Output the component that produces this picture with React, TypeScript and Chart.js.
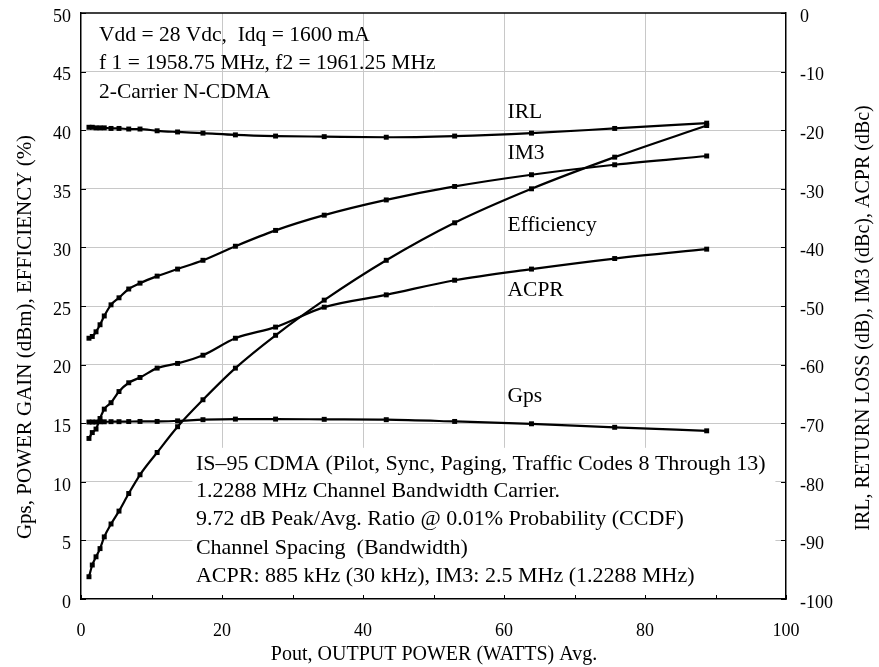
import React, { useEffect, useRef } from "react";
import { Chart, registerables } from "chart.js";
Chart.register(...registerables);

// Output power, W (avg.)
const powerWatts = [1.13, 1.6, 2.13, 2.7, 3.3, 4.26, 5.39, 6.77, 8.37, 10.8, 13.7, 17.3, 21.9, 27.6, 34.5, 43.3, 53.0, 63.9, 75.7, 88.75];
// Left axis series
const gpsDb = [15.1, 15.1, 15.1, 15.12, 15.12, 15.13, 15.13, 15.14, 15.15, 15.15, 15.2, 15.3, 15.35, 15.35, 15.33, 15.3, 15.15, 14.95, 14.65, 14.35];
const efficiencyPct = [1.9, 2.9, 3.6, 4.3, 5.3, 6.4, 7.5, 9.0, 10.6, 12.5, 14.7, 17.0, 19.7, 22.5, 25.5, 28.9, 32.1, 35.0, 37.7, 40.4];
// Right axis series
const irlDb = [-19.5, -19.5, -19.6, -19.6, -19.6, -19.7, -19.7, -19.8, -19.8, -20.1, -20.3, -20.5, -20.8, -21.0, -21.1, -21.2, -21.0, -20.5, -19.7, -18.8];
const im3Dbc = [-55.5, -55.2, -54.4, -53.2, -51.7, -49.8, -48.6, -47.1, -46.1, -44.9, -43.7, -42.2, -39.8, -37.1, -34.5, -31.9, -29.6, -27.6, -25.9, -24.4];
const acprDbc = [-72.6, -71.6, -71.0, -69.2, -67.6, -66.5, -64.6, -63.1, -62.2, -60.6, -59.8, -58.4, -55.5, -53.6, -50.2, -48.1, -45.6, -43.7, -41.9, -40.3];

const xTitle = "Pout, OUTPUT POWER (WATTS) Avg.";
const yTitle = "Gps, POWER GAIN (dBm), EFFICIENCY (%)";
const y2Title = "IRL, RETURN LOSS (dB), IM3 (dBc), ACPR (dBc)";

const topNotes = ["Vdd = 28 Vdc,  Idq = 1600 mA", "f 1 = 1958.75 MHz, f2 = 1961.25 MHz", "2-Carrier N-CDMA"];
const bottomNotes = [
  "IS\u201395 CDMA (Pilot, Sync, Paging, Traffic Codes 8 Through 13)",
  "1.2288 MHz Channel Bandwidth Carrier.",
  "9.72 dB Peak/Avg. Ratio @ 0.01% Probability (CCDF)",
  "Channel Spacing  (Bandwidth)",
  "ACPR: 885 kHz (30 kHz), IM3: 2.5 MHz (1.2288 MHz)",
];
const curveLabels = ["IRL", "IM3", "Efficiency", "ACPR", "Gps"];
const curveLabelY = [41.55, 38.05, 31.9, 26.37, 17.3];

const SERIF = "'Liberation Serif', 'Times New Roman', serif";

const overlay = {
  id: "overlay",
  beforeDatasetsDraw(chart: any) {
    const { ctx, scales } = chart;
    const x = scales.x, y = scales.y;
    ctx.save();
    ctx.fillStyle = "#ffffff";
    const x0 = x.getPixelForValue(15.8), x1 = x.getPixelForValue(98.5);
    const y0 = y.getPixelForValue(12.9), y1 = y.getPixelForValue(0.15);
    ctx.fillRect(x0, y0, x1 - x0, y1 - y0);
    ctx.restore();
  },
  afterDraw(chart: any) {
    const { ctx, chartArea, scales } = chart;
    const x = scales.x, y = scales.y, y2 = scales.y2;
    ctx.save();
    ctx.strokeStyle = "#000";
    ctx.lineWidth = 1.5;
    ctx.beginPath();
    ctx.moveTo(chartArea.left, chartArea.top);
    ctx.lineTo(chartArea.right, chartArea.top);
    ctx.stroke();
    ctx.lineWidth = 1;
    ctx.beginPath();
    y.ticks.forEach((t: any) => {
      const p = Math.round(y.getPixelForValue(t.value)) + 0.5;
      ctx.moveTo(chartArea.left, p);
      ctx.lineTo(chartArea.left + 5, p);
    });
    y2.ticks.forEach((t: any) => {
      const p = Math.round(y2.getPixelForValue(t.value)) + 0.5;
      ctx.moveTo(chartArea.right, p);
      ctx.lineTo(chartArea.right - 5, p);
    });
    for (let v = x.min; v <= x.max; v += 10) {
      const p = Math.round(x.getPixelForValue(v)) + 0.5;
      ctx.moveTo(p, chartArea.bottom);
      ctx.lineTo(p, chartArea.bottom - 4);
    }
    ctx.stroke();

    ctx.fillStyle = "#000";
    ctx.textBaseline = "middle";
    ctx.textAlign = "left";
    ctx.font = `21.5px ${SERIF}`;
    const topY = [48.1, 45.7, 43.26];
    topNotes.forEach((s, i) => ctx.fillText(s, x.getPixelForValue(2.55), y.getPixelForValue(topY[i])));
    ctx.font = `22px ${SERIF}`;
    const botY = [11.5, 9.2, 6.83, 4.35, 1.96];
    bottomNotes.forEach((s, i) => ctx.fillText(s, x.getPixelForValue(16.3), y.getPixelForValue(botY[i])));
    ctx.font = `21.5px ${SERIF}`;
    curveLabels.forEach((s, i) => ctx.fillText(s, x.getPixelForValue(60.5), y.getPixelForValue(curveLabelY[i])));

    ctx.textAlign = "center";
    ctx.font = `20px ${SERIF}`;
    ctx.fillText(xTitle, 434, 655);
    ctx.save();
    ctx.font = `21px ${SERIF}`;
    ctx.translate(25, 337);
    ctx.rotate(-Math.PI / 2);
    ctx.fillText(yTitle, 0, 0);
    ctx.restore();
    ctx.save();
    ctx.translate(864, 318);
    ctx.rotate(-Math.PI / 2);
    ctx.fillText(y2Title, 0, 0);
    ctx.restore();
    ctx.restore();
  },
};

export default function App() {
  const ref = useRef<HTMLCanvasElement | null>(null);
  useEffect(() => {
    if (!ref.current) return;
    const mk = (label: string, data: number[], axis: string) => ({
      label,
      data: powerWatts.map((p, i) => ({ x: p, y: data[i] })),
      yAxisID: axis,
      borderColor: "#000",
      backgroundColor: "#000",
      borderWidth: 2.2,
      pointStyle: "rect",
      pointRadius: 3.5,
      pointBorderWidth: 0,
      pointBackgroundColor: "#000",
      cubicInterpolationMode: "monotone",
      fill: false,
    });
    const tickFont = { family: SERIF, size: 18 };
    const fitV = (w: number) => (s: any) => {
      s.width = w;
      s.paddingTop = 0;
      s.paddingBottom = 0;
    };
    const chart = new Chart(ref.current, {
      type: "line",
      data: {
        datasets: [
          mk("Gps", gpsDb, "y"),
          mk("Efficiency", efficiencyPct, "y"),
          mk("IRL", irlDb, "y2"),
          mk("IM3", im3Dbc, "y2"),
          mk("ACPR", acprDbc, "y2"),
        ] as any,
      },
      options: {
        animation: false,
        responsive: false,
        layout: { padding: { top: 13, left: 0, right: 0, bottom: 0 } },
        plugins: { legend: { display: false }, tooltip: { enabled: false } },
        scales: {
          x: {
            type: "linear",
            min: 0,
            max: 100,
            ticks: { stepSize: 20, font: tickFont, color: "#000", padding: 21, maxRotation: 0 },
            grid: {
              drawTicks: false,
              color: (c: any) => (c.tick && (c.tick.value === 0 || c.tick.value === 100) ? "rgba(0,0,0,0)" : "#c8c8c8"),
            },
            border: { display: true, color: "#000", width: 1.5 },
            afterFit: (s: any) => { s.height = 68; s.paddingLeft = 0; s.paddingRight = 0; },
          },
          y: {
            type: "linear",
            position: "left",
            min: 0,
            max: 50,
            ticks: { stepSize: 5, font: tickFont, color: "#000", padding: 10, labelOffset: 4 },
            grid: {
              drawTicks: false,
              color: (c: any) => (c.tick && (c.tick.value === 0 || c.tick.value === 50) ? "rgba(0,0,0,0)" : "#c8c8c8"),
            },
            border: { display: true, color: "#000", width: 1.5 },
            afterFit: fitV(81),
          },
          y2: {
            type: "linear",
            position: "right",
            min: -100,
            max: 0,
            ticks: { stepSize: 10, font: tickFont, color: "#000", padding: 14, labelOffset: 4 },
            grid: { display: false, drawTicks: false },
            border: { display: true, color: "#000", width: 1.5 },
            afterFit: fitV(93),
          },
        },
      } as any,
      plugins: [overlay],
    });
    return () => chart.destroy();
  }, []);
  return (
    <div style={{ position: "fixed", left: 0, top: 0, width: 879, height: 667, background: "#fff" }}>
      <canvas ref={ref} width={879} height={667} style={{ width: 879, height: 667, display: "block" }} />
    </div>
  );
}
